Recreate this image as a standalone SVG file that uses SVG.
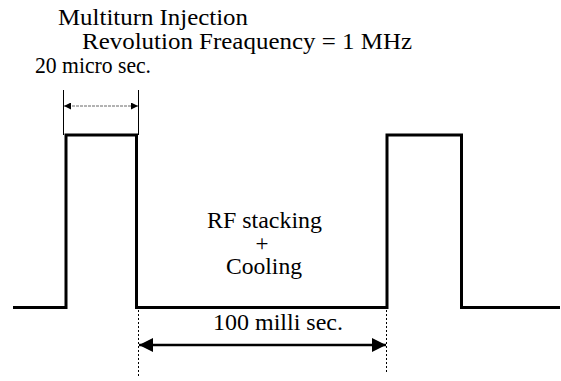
<svg xmlns="http://www.w3.org/2000/svg" width="561" height="381" viewBox="0 0 561 381">
<style>
text{font-family:"Liberation Serif","Times New Roman",serif;font-size:23px;fill:#000}
.wave{fill:none;stroke:#000;stroke-width:3;stroke-linejoin:miter}
.ext{stroke:#000;stroke-width:1;fill:none}
.dot{stroke:#000;stroke-width:1;stroke-dasharray:2 2;fill:none}
</style>
<defs>
<marker id="sa" viewBox="0 0 10 10" refX="10" refY="5" markerWidth="9" markerHeight="7" markerUnits="userSpaceOnUse" orient="auto-start-reverse"><path d="M0,0 L10,5 L0,10 Z" fill="#000"/></marker>
<marker id="la" viewBox="0 0 10 10" refX="10" refY="5" markerWidth="16" markerHeight="14" markerUnits="userSpaceOnUse" orient="auto-start-reverse"><path d="M0,0 L10,5 L0,10 Z" fill="#000"/></marker>
</defs>
<g id="waveform"><path class="wave" d="M13,307.5 H66 V135 H136.5 V307.5 H387 V135 H461.5 V307.5 H560"/></g>
<g id="connectors">
<line class="ext" x1="63.5" y1="90" x2="63.5" y2="135"/>
<line class="ext" x1="138.5" y1="90" x2="138.5" y2="135"/>
<line x1="64" y1="106" x2="138" y2="106" stroke="#666" stroke-width="1" stroke-dasharray="3 1" marker-start="url(#sa)" marker-end="url(#sa)"/>
<line class="dot" x1="138.5" y1="310" x2="138.5" y2="378"/>
<line class="dot" x1="386.5" y1="310" x2="386.5" y2="372"/>
<line x1="139" y1="345" x2="386" y2="345" stroke="#000" stroke-width="2.5" marker-start="url(#la)" marker-end="url(#la)"/>
</g>
<g id="labels">
<text x="58" y="25" textLength="190" lengthAdjust="spacingAndGlyphs">Multiturn Injection</text>
<text x="82" y="49" textLength="330" lengthAdjust="spacingAndGlyphs">Revolution Freaquency = 1 MHz</text>
<text x="35" y="73" textLength="116" lengthAdjust="spacingAndGlyphs">20 micro sec.</text>
<text x="207" y="228" textLength="115" lengthAdjust="spacingAndGlyphs">RF stacking</text>
<text x="262" y="251" text-anchor="middle">+</text>
<text x="226" y="274" textLength="76" lengthAdjust="spacingAndGlyphs">Cooling</text>
<text x="213" y="330" textLength="130" lengthAdjust="spacingAndGlyphs">100 milli sec.</text>
</g>
</svg>
